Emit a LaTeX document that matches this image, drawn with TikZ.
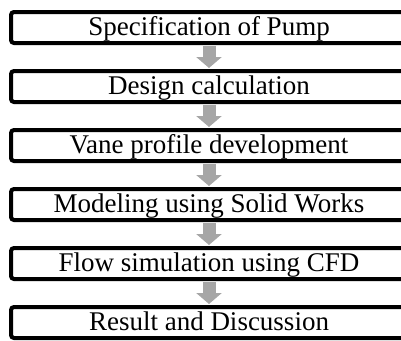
\documentclass[tikz,border=0pt]{standalone}
\usepackage{fontspec}
\setmainfont{Liberation Serif}
\usetikzlibrary{arrows.meta}
\definecolor{flowgray}{RGB}{166,166,166}
\tikzset{
  stage/.style={draw=black, line width=4pt, rounded corners=3pt, fill=white,
    minimum width=396pt, minimum height=31pt, inner sep=0pt,
    text height=20pt, text depth=5pt,
    font=\fontsize{27}{32}\selectfont},
  flow/.style={draw=flowgray, line width=13pt, line cap=butt,
    -{Triangle[width=25pt,length=11pt]}, shorten <=1pt, shorten >=1pt}
}
\begin{document}
\begin{tikzpicture}[x=1pt,y=-1pt]
  \useasboundingbox (0,0) rectangle (401,340);
  \clip (0,0) rectangle (401,340);
  \node[stage] (s1) at (209,27.5)  {Specification of Pump};
  \node[stage] (s2) at (209,86.5)  {Design calculation};
  \node[stage] (s3) at (209,145.5) {Vane profile development};
  \node[stage] (s4) at (209,204.5) {Modeling using Solid Works};
  \node[stage] (s5) at (209,263.5) {Flow simulation using CFD};
  \node[stage] (s6) at (209,322.5) {Result and Discussion};
  \foreach \a/\b in {s1/s2,s2/s3,s3/s4,s4/s5,s5/s6}
    \draw[flow] (\a.south) -- (\b.north);
\end{tikzpicture}
\end{document}
